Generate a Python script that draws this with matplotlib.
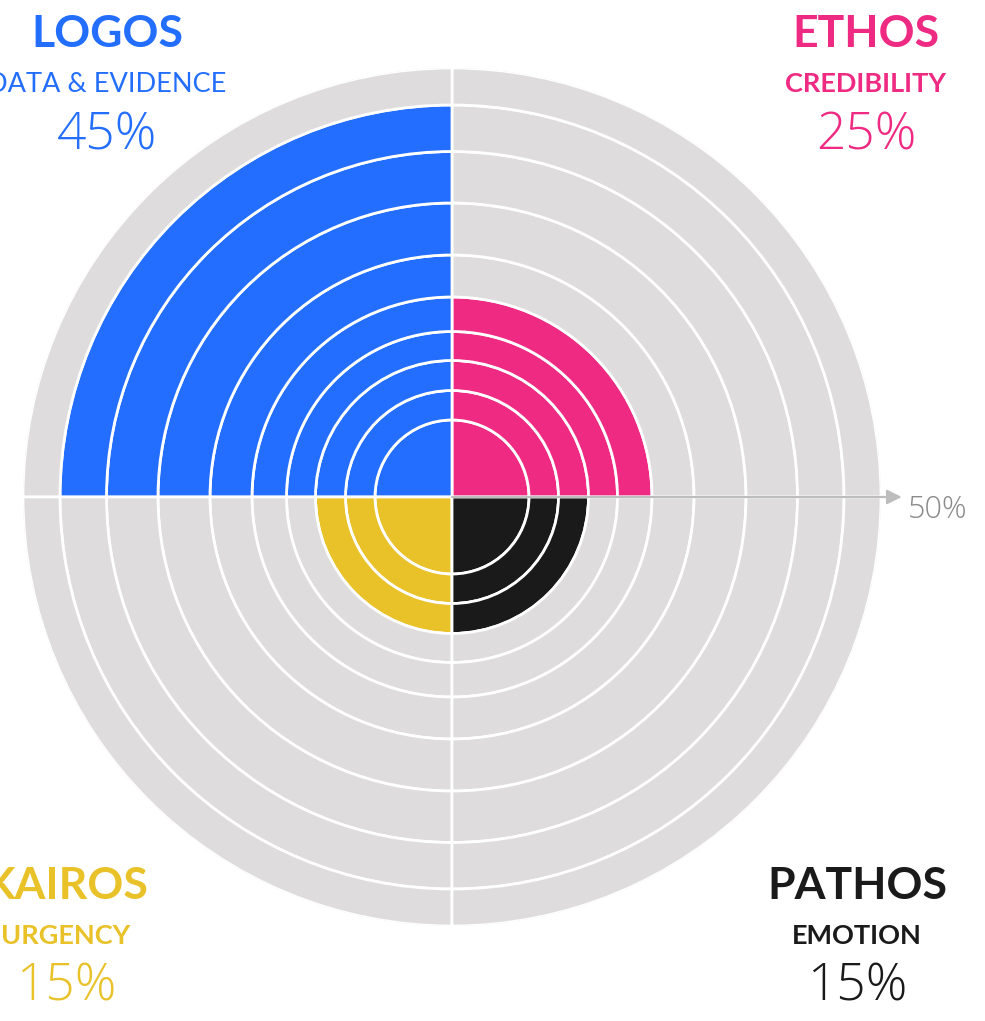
import numpy as np
import matplotlib
matplotlib.use('Agg')
import matplotlib.pyplot as plt

# =============================================================================
# data (quadrants counter-clockwise from 3 o'clock)
# =============================================================================
appeals = ['ETHOS', 'LOGOS', 'KAIROS', 'PATHOS']
subtitles = ['CREDIBILITY', 'DATA & EVIDENCE', 'URGENCY', 'EMOTION']
shares = [25, 45, 15, 15]
ring_step = 5
ring_max = 50

# radial scale: percent -> radius in pixels
scale_pct = [0, 5, 10, 15, 20, 25, 30, 35, 40, 45, 50, 60]
scale_px = [0, 77, 106.5, 136.5, 165.5, 200, 242, 294, 345.5, 392, 429, 503]

# =============================================================================
# style
# =============================================================================
colors = ['#EE2A82', '#236EFF', '#E9C22A', '#1A1A1A']
sub_weights = ['bold', 'normal', 'bold', 'bold']
gray_bg = '#DEDCDD'
axis_gray = '#BDBDBD'
plt.rcParams['font.family'] = ['Lato', 'DejaVu Sans']
pct_font = ['Open Sans', 'DejaVu Sans']

W, H = 985, 1021
cx, cy, R = 452, 497, 429
label_x = [866, 107, 66, 857]
top_y = [47, 92, 149]
bot_y = [899, 944, 1000]


def fwd(r):
    return np.interp(r, scale_pct, scale_px)


def inv(p):
    return np.interp(p, scale_px, scale_pct)


fig = plt.figure(figsize=(W / 100, H / 100), dpi=100)
ax = fig.add_axes([(cx - R) / W, (H - cy - R) / H, 2 * R / W, 2 * R / H],
                  projection='polar')
ax.set_rscale('function', functions=(fwd, inv))
ax.set_rlim(0, ring_max)

bottoms = np.arange(0, ring_max, ring_step)
for q, (share, col) in enumerate(zip(shares, colors)):
    face = [col if b < share else gray_bg for b in bottoms]
    ax.bar(np.full(len(bottoms), q * np.pi / 2), ring_step, width=np.pi / 2,
           bottom=bottoms, align='edge', color=face,
           edgecolor='white', linewidth=2, zorder=2)

# radial axis arrow + label
ax.annotate('', xy=(0, 52.8), xytext=(0, 0),
            arrowprops=dict(arrowstyle='-|>', color=axis_gray, lw=1.6,
                            mutation_scale=22, shrinkA=0, shrinkB=0),
            annotation_clip=False, zorder=5)
ax.annotate(f'{ring_max}%', xy=(0, ring_max), xytext=(27, -21),
            textcoords='offset pixels', ha='left', va='baseline',
            fontsize=22, color='#8A8A8A', family=pct_font,
            fontweight='light', annotation_clip=False)

ax.set_xticks([])
ax.set_yticks([])
ax.grid(False)
ax.spines['polar'].set_visible(False)
ax.patch.set_visible(False)

# quadrant labels
for q in range(4):
    ys = top_y if q < 2 else bot_y
    x = label_x[q] / W
    fig.text(x, 1 - ys[0] / H, appeals[q], ha='center', va='baseline',
             fontsize=32, fontweight='bold', color=colors[q])
    fig.text(x, 1 - ys[1] / H, subtitles[q], ha='center', va='baseline',
             fontsize=19.5, fontweight=sub_weights[q], color=colors[q])
    fig.text(x, 1 - ys[2] / H, f'{shares[q]}%', ha='center', va='baseline',
             fontsize=37, fontweight='light', family=pct_font,
             color=colors[q])

fig.savefig('out.png', dpi=100)
